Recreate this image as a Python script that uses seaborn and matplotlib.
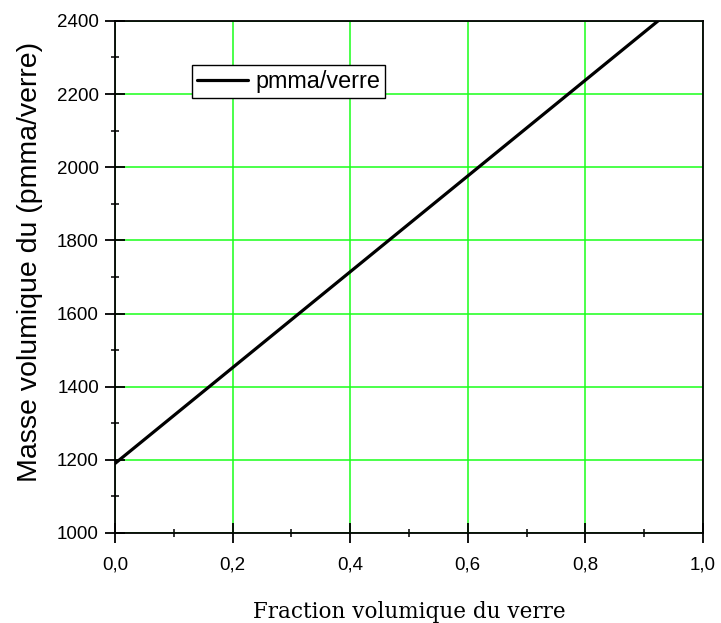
import numpy as np
import pandas as pd
import matplotlib
matplotlib.use("Agg")
import matplotlib.pyplot as plt
import seaborn as sns
from matplotlib.ticker import MultipleLocator, FuncFormatter

# Rule of mixtures endpoints: pure PMMA and pure glass density
fraction_verre = [0.0, 1.0]
masse_volumique = [1190, 2500]
serie = "pmma/verre"

df = pd.DataFrame({"x": fraction_verre, "y": masse_volumique, "serie": serie})

sns.set_style("white")
plt.rcParams['font.family'] = ['Liberation Sans', 'DejaVu Sans']
plt.rcParams['text.color'] = 'black'
plt.rcParams['axes.labelcolor'] = 'black'

fig = plt.figure(figsize=(7.21, 6.23), dpi=100)
ax = fig.add_axes([0.1595, 0.1445, 0.8155, 0.822])

sns.lineplot(data=df, x="x", y="y", hue="serie", palette=["black"],
             linewidth=2.3, ax=ax, legend=True)

ax.set_xlim(0, 1.0)
ax.set_ylim(1000, 2400)

ax.xaxis.set_major_locator(MultipleLocator(0.2))
ax.xaxis.set_minor_locator(MultipleLocator(0.1))
ax.yaxis.set_major_locator(MultipleLocator(200))
ax.yaxis.set_minor_locator(MultipleLocator(100))
ax.xaxis.set_major_formatter(FuncFormatter(lambda v, p: f"{v:.1f}".replace(".", ",")))

ax.grid(True, which="major", color="#1aff1a", linewidth=1.1)
ax.grid(False, which="minor")
ax.set_axisbelow(True)

for s in ax.spines.values():
    s.set_color("black")
    s.set_linewidth(1.3)

ax.tick_params(axis="both", which="both", bottom=True, left=True, top=False, right=False)
ax.tick_params(axis="both", which="major", direction="inout", length=14.5, width=1.3,
               labelsize=13.5, colors="black")
ax.tick_params(axis="both", which="minor", direction="inout", length=6, width=1.1,
               colors="black")
ax.tick_params(axis="x", which="major", pad=9.5)
ax.tick_params(axis="y", which="major", pad=4.3)

ax.set_xlabel("Fraction volumique du verre", family="DejaVu Serif", fontsize=15.5, labelpad=20)
ax.set_ylabel("Masse volumique du (pmma/verre)", fontsize=20.5)
ax.yaxis.set_label_coords(-0.123, 0.529)

leg = ax.legend(loc="upper left", bbox_to_anchor=(0.131, 0.914), fontsize=16.8,
                frameon=True, fancybox=False, edgecolor="black", framealpha=1,
                handlelength=2.2, borderpad=0.22, handletextpad=0.3, borderaxespad=0)
leg.get_frame().set_linewidth(1.0)

fig.savefig("out.png", dpi=100)
